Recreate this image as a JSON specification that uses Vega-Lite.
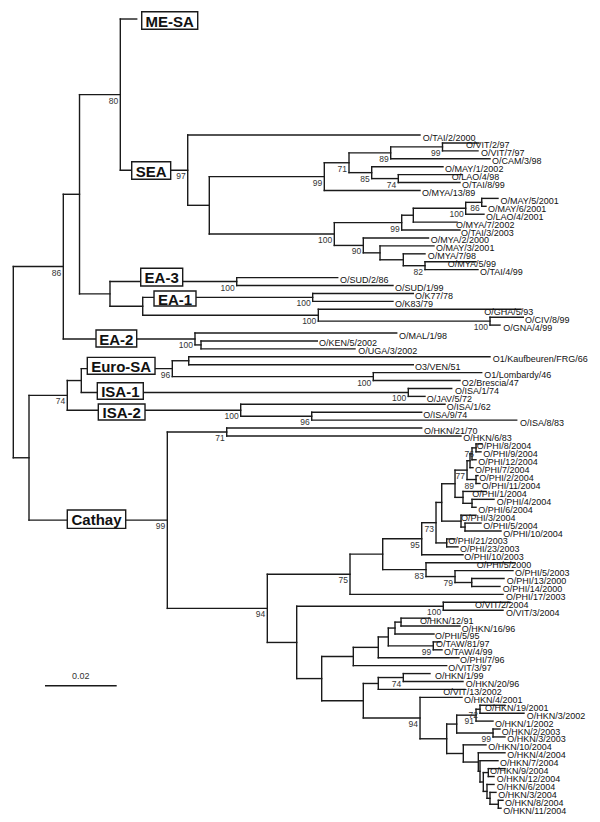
{
"$schema": "https://vega.github.io/schema/vega-lite/v6.json",
"width": 600, "height": 822, "padding": 0, "autosize": {"type": "none"},
"background": "white",
"config": {"view": {"stroke": null}},
"datasets": {
"nodes": [
{"id":"R","p":null,"d":0,"y":28.68},
{"id":"n86","p":"R","d":13.95,"y":16.6,"bs":"86"},
{"id":"nA","p":"n86","d":18.47,"y":7.48},
{"id":"n80","p":"nA","d":29.85,"y":-5.1,"bs":"80"},
{"id":"mesa","p":"n80","d":34.42,"y":-14.65},
{"id":"n97","p":"n80","d":48.65,"y":4.44,"bs":"97"},
{"id":"L0","p":"n97","d":113.44,"y":0,"name":"O/TAI/2/2000","lx":114.2},
{"id":"n209","p":"n97","d":54.67,"y":8.875},
{"id":"n99b","p":"n209","d":86.75,"y":5.25,"bs":"99"},
{"id":"n71s","p":"n99b","d":93.64,"y":3.5,"bs":"71"},
{"id":"n89","p":"n71s","d":105.27,"y":2.25,"bs":"89"},
{"id":"n99a","p":"n89","d":119.72,"y":1.5,"bs":"99"},
{"id":"L1","p":"n99a","d":129.9,"y":1,"name":"O/VIT/2/97","lx":126.28},
{"id":"L2","p":"n99a","d":129.62,"y":2,"name":"O/VIT/7/97","lx":130.46},
{"id":"L3","p":"n89","d":132.97,"y":3,"name":"O/CAM/3/98","lx":133.53},
{"id":"n85","p":"n71s","d":99.97,"y":4.75,"bs":"85"},
{"id":"L4","p":"n85","d":119.86,"y":4,"name":"O/MAY/1/2002","lx":120.42},
{"id":"n74s","p":"n85","d":107.39,"y":5.5,"bs":"74"},
{"id":"L5","p":"n74s","d":125.16,"y":5,"name":"O/LAO/4/98","lx":122.29},
{"id":"L6","p":"n74s","d":124.6,"y":6,"name":"O/TAI/8/99","lx":125.16},
{"id":"L7","p":"n99b","d":113.44,"y":7,"name":"O/MYA/13/89","lx":114.0},
{"id":"n100a","p":"n209","d":89.54,"y":12.5,"bs":"100"},
{"id":"n99c","p":"n100a","d":108.34,"y":11.06,"bs":"99"},
{"id":"n413","p":"n99c","d":111.58,"y":10.125},
{"id":"n100b","p":"n413","d":126.19,"y":9.25,"bs":"100"},
{"id":"n86b","p":"n100b","d":130.66,"y":8.5,"bs":"86"},
{"id":"L8","p":"n86b","d":135.2,"y":8,"name":"O/MAY/5/2001","lx":135.9},
{"id":"L9","p":"n86b","d":131.85,"y":9,"name":"O/MAY/6/2001","lx":132.41},
{"id":"L10","p":"n100b","d":131.29,"y":10,"name":"O/LAO/4/2001","lx":131.85},
{"id":"L11","p":"n413","d":123.77,"y":11,"name":"O/MYA/7/2002","lx":123.49},
{"id":"L12","p":"n99c","d":124.6,"y":12,"name":"O/TAI/3/2003","lx":124.88},
{"id":"n90","p":"n100a","d":97.63,"y":13.94,"bs":"90"},
{"id":"L13","p":"n90","d":115.82,"y":13,"name":"O/MYA/2/2000","lx":116.43},
{"id":"na","p":"n90","d":102.29,"y":14.875},
{"id":"L14","p":"na","d":117.35,"y":14,"name":"O/MAY/3/2001","lx":117.91},
{"id":"nb","p":"na","d":108.79,"y":15.75},
{"id":"L15","p":"nb","d":114.84,"y":15,"name":"O/MYA/7/98","lx":115.59},
{"id":"n82","p":"nb","d":114.84,"y":16.5,"bs":"82"},
{"id":"L16","p":"n82","d":129.07,"y":16,"name":"O/MYA/5/99","lx":121.17},
{"id":"L17","p":"n82","d":129.62,"y":17,"name":"O/TAI/4/99","lx":130.18},
{"id":"nEA","p":"nA","d":26.97,"y":20.06},
{"id":"nEA3","p":"nEA","d":62.32,"y":18.5,"bs":"100"},
{"id":"L18","p":"nEA3","d":90.49,"y":18,"name":"O/SUD/2/86","lx":91.13},
{"id":"L19","p":"nEA3","d":105.91,"y":19,"name":"O/SUD/1/99","lx":106.47},
{"id":"nEA1","p":"nEA","d":36.1,"y":21.625},
{"id":"n100c","p":"nEA1","d":83.51,"y":20.5,"bs":"100"},
{"id":"L20","p":"n100c","d":111.58,"y":20,"name":"O/K77/78","lx":112.05},
{"id":"L21","p":"n100c","d":105.91,"y":21,"name":"O/K83/79","lx":106.47},
{"id":"n100d","p":"nEA1","d":85.08,"y":22.75,"bs":"100"},
{"id":"L22","p":"n100d","d":141.62,"y":22,"name":"O/GHA/5/93","lx":131.38},
{"id":"n100e","p":"n100d","d":132.97,"y":23.5,"bs":"100"},
{"id":"L23","p":"n100e","d":142.26,"y":23,"name":"O/CIV/8/99","lx":142.73},
{"id":"L24","p":"n100e","d":135.76,"y":24,"name":"O/GNA/4/99","lx":136.68},
{"id":"n100f","p":"n86","d":50.68,"y":25.75,"bs":"100"},
{"id":"L25","p":"n100f","d":106.95,"y":25,"name":"O/MAL/1/98","lx":107.59},
{"id":"ng","p":"n100f","d":52.36,"y":26.5},
{"id":"L26","p":"ng","d":84.8,"y":26,"name":"O/KEN/5/2002","lx":85.27},
{"id":"L27","p":"ng","d":95.31,"y":27,"name":"O/UGA/3/2002","lx":96.23},
{"id":"nr2","p":"R","d":4.38,"y":40.75},
{"id":"n74","p":"nr2","d":15.06,"y":32.875,"bs":"74"},
{"id":"nb2","p":"n74","d":18.97,"y":31},
{"id":"n96","p":"nb2","d":44.35,"y":29.5,"bs":"96"},
{"id":"nc","p":"n96","d":48.93,"y":28.5},
{"id":"L28","p":"nc","d":132.97,"y":28,"name":"O1/Kaufbeuren/FRG/66","lx":133.72},
{"id":"L29","p":"nc","d":111.58,"y":29,"name":"O3/VEN/51","lx":112.05},
{"id":"n100g","p":"n96","d":100.42,"y":30.5,"bs":"100"},
{"id":"L30","p":"n100g","d":130.66,"y":30,"name":"O1/Lombardy/46","lx":131.38},
{"id":"L31","p":"n100g","d":124.6,"y":31,"name":"O2/Brescia/47","lx":125.08},
{"id":"n100h","p":"nb2","d":110.18,"y":32.5,"bs":"100"},
{"id":"L32","p":"n100h","d":122.29,"y":32,"name":"O/ISA/1/74","lx":123.21},
{"id":"L33","p":"n100h","d":114.84,"y":33,"name":"O/JAV/5/72","lx":115.31},
{"id":"n100i","p":"n74","d":63.43,"y":34.75,"bs":"100"},
{"id":"L34","p":"n100i","d":120.42,"y":34,"name":"O/ISA/1/62","lx":120.89},
{"id":"n96b","p":"n100i","d":83.24,"y":35.5,"bs":"96"},
{"id":"L35","p":"n96b","d":113.92,"y":35,"name":"O/ISA/9/74","lx":114.37},
{"id":"L36","p":"n96b","d":140.42,"y":36,"name":"O/ISA/8/83","lx":141.34},
{"id":"n99","p":"nr2","d":42.96,"y":48.63,"bs":"99"},
{"id":"n71c","p":"n99","d":59.53,"y":37.5,"bs":"71"},
{"id":"L37","p":"n71c","d":113.92,"y":37,"name":"O/HKN/21/70","lx":114.56},
{"id":"L38","p":"n71c","d":124.88,"y":38,"name":"O/HKN/6/83","lx":125.52},
{"id":"n94","p":"n99","d":70.85,"y":59.77,"bs":"94"},
{"id":"n75","p":"n94","d":93.92,"y":55.46,"bs":"75"},
{"id":"nx","p":"n75","d":103.04,"y":52.92},
{"id":"n95","p":"nx","d":113.92,"y":50.97,"bs":"95"},
{"id":"n73","p":"n95","d":117.91,"y":48.95,"bs":"73"},
{"id":"np6","p":"n73","d":119.5,"y":46.39},
{"id":"np5","p":"np6","d":123.21,"y":44.03},
{"id":"n77","p":"np5","d":126.56,"y":42.31,"bs":"77"},
{"id":"np2","p":"n77","d":127.39,"y":41.125},
{"id":"np1","p":"np2","d":127.95,"y":40.25},
{"id":"n76","p":"np1","d":129.07,"y":39.5,"bs":"76"},
{"id":"L39","p":"n76","d":130.74,"y":39,"name":"O/PHI/8/2004","lx":129.26},
{"id":"L40","p":"n76","d":130.46,"y":40,"name":"O/PHI/9/2004","lx":131.1},
{"id":"L41","p":"np1","d":129.07,"y":41,"name":"O/PHI/12/2004","lx":129.71},
{"id":"L42","p":"np2","d":128.23,"y":42,"name":"O/PHI/7/2004","lx":128.79},
{"id":"n89p","p":"n77","d":129.07,"y":43.5,"bs":"89"},
{"id":"L43","p":"n89p","d":129.62,"y":43,"name":"O/PHI/2/2004","lx":129.99},
{"id":"L44","p":"n89p","d":130.18,"y":44,"name":"O/PHI/11/2004","lx":130.66},
{"id":"nq1","p":"np5","d":125.44,"y":45.75},
{"id":"L45","p":"nq1","d":131.85,"y":45,"name":"O/PHI/1/2004","lx":128.03},
{"id":"nq2","p":"nq1","d":127.95,"y":46.5},
{"id":"L46","p":"nq2","d":134.09,"y":46,"name":"O/PHI/4/2004","lx":134.84},
{"id":"L47","p":"nq2","d":129.07,"y":47,"name":"O/PHI/6/2004","lx":129.71},
{"id":"nr1","p":"np6","d":124.88,"y":48.75},
{"id":"L48","p":"nr1","d":129.07,"y":48,"name":"O/PHI/3/2004","lx":124.88},
{"id":"nr2b","p":"nr1","d":126.0,"y":49.5},
{"id":"L49","p":"nr2b","d":130.46,"y":49,"name":"O/PHI/5/2004","lx":131.1},
{"id":"L50","p":"nr2b","d":136.04,"y":50,"name":"O/PHI/10/2004","lx":136.68},
{"id":"ns","p":"n73","d":120.89,"y":51.5},
{"id":"L51","p":"ns","d":123.21,"y":51,"name":"O/PHI/21/2003","lx":121.34},
{"id":"L52","p":"ns","d":124.04,"y":52,"name":"O/PHI/23/2003","lx":124.6},
{"id":"L53","p":"n95","d":125.44,"y":53,"name":"O/PHI/10/2003","lx":125.8},
{"id":"n83","p":"nx","d":115.12,"y":54.875,"bs":"83"},
{"id":"L54","p":"n83","d":139.94,"y":54,"name":"O/PHI/5/2000","lx":129.26},
{"id":"n79","p":"n83","d":123.21,"y":55.75,"bs":"79"},
{"id":"L55","p":"n79","d":139.39,"y":55,"name":"O/PHI/5/2003","lx":139.94},
{"id":"nt","p":"n79","d":127.87,"y":56.5},
{"id":"L56","p":"nt","d":136.88,"y":56,"name":"O/PHI/13/2000","lx":137.63},
{"id":"L57","p":"nt","d":135.76,"y":57,"name":"O/PHI/14/2000","lx":136.51},
{"id":"L58","p":"n75","d":136.6,"y":58,"name":"O/PHI/17/2003","lx":137.43},
{"id":"nv","p":"n94","d":79.05,"y":64.07},
{"id":"n100j","p":"nv","d":119.94,"y":59.5,"bs":"100"},
{"id":"L59","p":"n100j","d":138.55,"y":59,"name":"O/VIT/2/2004","lx":128.79},
{"id":"L60","p":"n100j","d":136.6,"y":60,"name":"O/VIT/3/2004","lx":137.43},
{"id":"nh","p":"nv","d":86.02,"y":68.63},
{"id":"nw","p":"nh","d":94.84,"y":65.84},
{"id":"nw1","p":"nw","d":101.81,"y":64.69},
{"id":"nw2","p":"nw1","d":104.6,"y":63.375},
{"id":"nw3","p":"nw2","d":106.47,"y":62.25},
{"id":"nw4","p":"nw3","d":108.15,"y":61.5},
{"id":"L61","p":"nw4","d":116.23,"y":61,"name":"O/HKN/12/91","lx":113.44},
{"id":"L62","p":"nw4","d":124.6,"y":62,"name":"O/HKN/16/96","lx":125.08},
{"id":"L63","p":"nw3","d":117.35,"y":63,"name":"O/PHI/5/95","lx":117.63},
{"id":"n99t","p":"nw2","d":117.15,"y":64.5,"bs":"99"},
{"id":"L64","p":"n99t","d":119.02,"y":64,"name":"O/TAW/81/97","lx":117.91},
{"id":"L65","p":"n99t","d":119.58,"y":65,"name":"O/TAW/4/99","lx":120.14},
{"id":"L66","p":"nw1","d":124.32,"y":66,"name":"O/PHI/7/96","lx":124.6},
{"id":"L67","p":"nw","d":120.89,"y":67,"name":"O/VIT/3/97","lx":121.34},
{"id":"nu","p":"nh","d":97.63,"y":71.43},
{"id":"nu1","p":"nu","d":101.81,"y":69.25},
{"id":"n74u","p":"nu1","d":108.79,"y":68.5,"bs":"74"},
{"id":"L68","p":"n74u","d":116.23,"y":68,"name":"O/HKN/1/99","lx":117.63},
{"id":"L69","p":"n74u","d":125.44,"y":69,"name":"O/HKN/20/96","lx":126.19},
{"id":"L70","p":"nu1","d":126.0,"y":70,"name":"O/VIT/13/2002","lx":119.94},
{"id":"n94u","p":"nu","d":113.45,"y":73.6,"bs":"94"},
{"id":"L71","p":"n94u","d":125.16,"y":71,"name":"O/HKN/4/2001","lx":125.72},
{"id":"nk","p":"n94u","d":120.89,"y":76.23},
{"id":"ng1","p":"nk","d":123.68,"y":74.375},
{"id":"n91","p":"ng1","d":129.07,"y":73.25,"bs":"91"},
{"id":"n72","p":"n91","d":130.18,"y":72.5,"bs":"72"},
{"id":"L72","p":"n72","d":137.15,"y":72,"name":"O/HKN/19/2001","lx":131.58},
{"id":"L73","p":"n72","d":142.45,"y":73,"name":"O/HKN/3/2002","lx":143.21},
{"id":"L74","p":"n91","d":133.81,"y":74,"name":"O/HKN/1/2002","lx":134.37},
{"id":"n99k","p":"ng1","d":133.81,"y":75.5,"bs":"99"},
{"id":"L75","p":"n99k","d":135.76,"y":75,"name":"O/HKN/2/2003","lx":136.23},
{"id":"L76","p":"n99k","d":137.15,"y":76,"name":"O/HKN/3/2003","lx":137.8},
{"id":"nm","p":"nk","d":125.52,"y":78.09},
{"id":"L77","p":"nm","d":131.85,"y":77,"name":"O/HKN/10/2004","lx":132.5},
{"id":"nm2","p":"nm","d":129.71,"y":79.17},
{"id":"L78","p":"nm2","d":137.15,"y":78,"name":"O/HKN/4/2004","lx":137.8},
{"id":"nm3","p":"nm2","d":130.18,"y":80.34},
{"id":"L79","p":"nm3","d":135.2,"y":79,"name":"O/HKN/7/2004","lx":135.76},
{"id":"nm4","p":"nm3","d":131.1,"y":81.69},
{"id":"nm5","p":"nm4","d":132.5,"y":80.5},
{"id":"L80","p":"nm5","d":137.15,"y":80,"name":"O/HKN/9/2004","lx":132.97},
{"id":"L81","p":"nm5","d":134.09,"y":81,"name":"O/HKN/12/2004","lx":134.84},
{"id":"nm6","p":"nm4","d":132.13,"y":82.875},
{"id":"L82","p":"nm6","d":134.09,"y":82,"name":"O/HKN/6/2004","lx":134.84},
{"id":"nm7","p":"nm6","d":132.97,"y":83.75},
{"id":"L83","p":"nm7","d":134.64,"y":83,"name":"O/HKN/3/2004","lx":135.29},
{"id":"nm8","p":"nm7","d":135.29,"y":84.5},
{"id":"L84","p":"nm8","d":136.6,"y":84,"name":"O/HKN/8/2004","lx":137.15},
{"id":"L85","p":"nm8","d":136.04,"y":85,"name":"O/HKN/11/2004","lx":136.68}
],
"boxes": [
{"clade":"ME-SA","x1":35.82,"x2":51.44,"y1":-15.57,"y2":-13.35},
{"clade":"SEA","x1":33.03,"x2":43.9,"y1":3.37,"y2":5.59},
{"clade":"EA-3","x1":35.54,"x2":47.25,"y1":16.83,"y2":19.07},
{"clade":"EA-1","x1":39.25,"x2":50.96,"y1":19.7,"y2":21.59},
{"clade":"EA-2","x1":23.07,"x2":34.42,"y1":24.62,"y2":26.77},
{"clade":"Euro-SA","x1":20.64,"x2":39.53,"y1":28.07,"y2":30.21},
{"clade":"ISA-1","x1":23.43,"x2":36.26,"y1":31.28,"y2":33.37},
{"clade":"ISA-2","x1":23.71,"x2":36.74,"y1":33.96,"y2":35.98},
{"clade":"Cathay","x1":15.06,"x2":31.35,"y1":47.35,"y2":49.66}
],
"bar": [{"x1":8.84,"x2":28.84,"y":69.53,"label":"0.02","xc":18.84,"ly":68.31}]
},
"layer": [
{"data":{"name":"nodes"},
 "transform":[{"filter":"isValid(datum.p)"},
  {"lookup":"p","from":{"data":{"name":"nodes"},"key":"id","fields":["d"]},"as":["pd"]}],
 "mark":{"type":"rule","strokeWidth":1.4,"color":"#1a1a1a","strokeCap":"square"},
 "encoding":{
  "x":{"field":"pd","type":"quantitative","scale":{"domain":[-3.71,163.65],"nice":false,"zero":false},"axis":null},
  "x2":{"field":"d"},
  "y":{"field":"y","type":"quantitative","scale":{"domain":[-17.05,86.74],"nice":false,"zero":false,"reverse":true},"axis":null}}},
{"data":{"name":"nodes"},
 "transform":[{"filter":"isValid(datum.p)"},
  {"aggregate":[{"op":"min","field":"y","as":"ymin"},{"op":"max","field":"y","as":"ymax"}],"groupby":["p"]},
  {"lookup":"p","from":{"data":{"name":"nodes"},"key":"id","fields":["d"]},"as":["pd"]}],
 "mark":{"type":"rule","strokeWidth":1.4,"color":"#1a1a1a","strokeCap":"square"},
 "encoding":{
  "x":{"field":"pd","type":"quantitative","scale":{"domain":[-3.71,163.65],"nice":false,"zero":false},"axis":null},
  "y":{"field":"ymin","type":"quantitative","scale":{"domain":[-17.05,86.74],"nice":false,"zero":false,"reverse":true},"axis":null},
  "y2":{"field":"ymax"}}},
{"data":{"name":"bar"},
 "mark":{"type":"rule","strokeWidth":1.4,"color":"#1a1a1a"},
 "encoding":{
  "x":{"field":"x1","type":"quantitative","scale":{"domain":[-3.71,163.65],"nice":false,"zero":false},"axis":null},
  "x2":{"field":"x2"},
  "y":{"field":"y","type":"quantitative","scale":{"domain":[-17.05,86.74],"nice":false,"zero":false,"reverse":true},"axis":null}}},
{"data":{"name":"bar"},
 "mark":{"type":"text","font":"Liberation Sans","fontSize":9,"color":"#333","align":"center","baseline":"middle"},
 "encoding":{
  "x":{"field":"xc","type":"quantitative","scale":{"domain":[-3.71,163.65],"nice":false,"zero":false},"axis":null},
  "y":{"field":"ly","type":"quantitative","scale":{"domain":[-17.05,86.74],"nice":false,"zero":false,"reverse":true},"axis":null},
  "text":{"field":"label"}}},
{"data":{"name":"boxes"},
 "mark":{"type":"rect","fill":"white","stroke":"#1a1a1a","strokeWidth":1.4},
 "encoding":{
  "x":{"field":"x1","type":"quantitative","scale":{"domain":[-3.71,163.65],"nice":false,"zero":false},"axis":null},
  "x2":{"field":"x2"},
  "y":{"field":"y1","type":"quantitative","scale":{"domain":[-17.05,86.74],"nice":false,"zero":false,"reverse":true},"axis":null},
  "y2":{"field":"y2"}}},
{"data":{"name":"boxes"},
 "transform":[{"calculate":"(datum.x1+datum.x2)/2","as":"xc"},{"calculate":"(datum.y1+datum.y2)/2","as":"yc"}],
 "mark":{"type":"text","font":"Liberation Sans","fontSize":15,"fontWeight":"bold","color":"#111","align":"center","baseline":"middle","dy":1},
 "encoding":{
  "x":{"field":"xc","type":"quantitative","scale":{"domain":[-3.71,163.65],"nice":false,"zero":false},"axis":null},
  "y":{"field":"yc","type":"quantitative","scale":{"domain":[-17.05,86.74],"nice":false,"zero":false,"reverse":true},"axis":null},
  "text":{"field":"clade"}}},
{"data":{"name":"nodes"},
 "transform":[{"filter":"isValid(datum.name)"}],
 "mark":{"type":"text","font":"Liberation Sans","fontSize":9,"color":"#111","align":"left","baseline":"middle","dy":2.5},
 "encoding":{
  "x":{"field":"lx","type":"quantitative","scale":{"domain":[-3.71,163.65],"nice":false,"zero":false},"axis":null},
  "y":{"field":"y","type":"quantitative","scale":{"domain":[-17.05,86.74],"nice":false,"zero":false,"reverse":true},"axis":null},
  "text":{"field":"name"}}},
{"data":{"name":"nodes"},
 "transform":[{"filter":"isValid(datum.bs)"}],
 "mark":{"type":"text","font":"Liberation Sans","fontSize":8.5,"color":"#333","align":"right","baseline":"middle","dx":-2,"dy":6},
 "encoding":{
  "x":{"field":"d","type":"quantitative","scale":{"domain":[-3.71,163.65],"nice":false,"zero":false},"axis":null},
  "y":{"field":"y","type":"quantitative","scale":{"domain":[-17.05,86.74],"nice":false,"zero":false,"reverse":true},"axis":null},
  "text":{"field":"bs"}}}
]
}
